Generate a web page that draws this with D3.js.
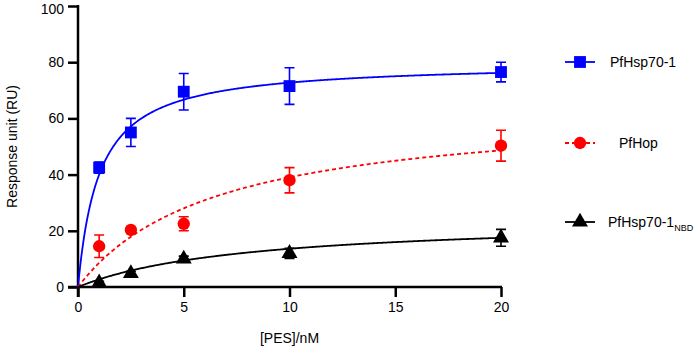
<!DOCTYPE html>
<html>
<head>
<meta charset="utf-8">
<script src="https://cdn.jsdelivr.net/npm/d3@7"></script>
<style>
body { margin: 0; background: #fff; }
svg { font-family: "Liberation Sans", Arial, sans-serif; }
</style>
</head>
<body>
<svg id="chart" width="699" height="347"></svg>
<script>
// concentrations [PES]/nM
var concs = [1, 2.5, 5, 10, 20]

var hsp70Mean = [42.5, 55, 69.5, 71.5, 76.5]
var hsp70Err = [2, 5, 6.5, 6.5, 3.5]
var hopMean = [14.5, 20.3, 22.5, 38, 50.3]
var hopErr = [4, 0.8, 2.5, 4.5, 5.5]
var nbdMean = [1.5, 4.8, 10, 12, 17.5]
var nbdErr = [0.5, 0.8, 1, 1.8, 3]

// one-site binding fit parameters [Bmax, Kd]
var hsp70Fit = [80, 1.0]
var hopFit = [64.4, 6.5]
var nbdFit = [24.5, 8]

var xTicks = [0, 5, 10, 15, 20]
var yTicks = [0, 20, 40, 60, 80, 100]

var series = [
  {name: "PfHsp70-1", mean: hsp70Mean, err: hsp70Err, fit: hsp70Fit, color: "#0000ff", shape: "square", dash: null},
  {name: "PfHop", mean: hopMean, err: hopErr, fit: hopFit, color: "#ff0000", shape: "circle", dash: "4,3"},
  {name: "PfHsp70-1", sub: "NBD", mean: nbdMean, err: nbdErr, fit: nbdFit, color: "#000000", shape: "triangle", dash: null}
]

var svg = d3.select("#chart")
var xScale = d3.scaleLinear().domain([0, 20]).range([78, 501])
var yScale = d3.scaleLinear().domain([0, 100]).range([287, 6])

function symbolFor(shape) {
  if (shape == "square") return d3.symbol().type(d3.symbolSquare).size(140)
  if (shape == "circle") return d3.symbol().type(d3.symbolCircle).size(120)
  return d3.symbol().type(d3.symbolTriangle).size(110)
}

// axes
var xAxis = svg.append("g")
  .attr("transform", "translate(0," + yScale(0) + ")")
  .call(d3.axisBottom(xScale).tickValues(xTicks).tickSize(10).tickPadding(5))
var yAxis = svg.append("g")
  .attr("transform", "translate(" + xScale(0) + ",0)")
  .call(d3.axisLeft(yScale).tickValues(yTicks).tickSize(10).tickPadding(4))

;[xAxis, yAxis].forEach(function(ax) {
  ax.selectAll(".tick line").attr("stroke", "#000").attr("stroke-width", 2.5)
  ax.selectAll(".tick text").attr("fill", "#000").attr("font-size", "14px")
    .attr("font-family", "Liberation Sans, Arial, sans-serif")
})
xAxis.select(".domain").attr("stroke", "#000").attr("stroke-width", 2.5)
  .attr("d", "M" + (xScale(0) - 10) + ",0H" + (xScale(20) + 1))
yAxis.select(".domain").attr("stroke", "#000").attr("stroke-width", 2.5)
  .attr("d", "M0," + (yScale(100) - 1) + "V" + (yScale(0) + 10))
// keep the top label inside the picture
yAxis.selectAll(".tick text").filter(function(d) { return d == 100 }).attr("dy", "0.5em")

svg.append("text")
  .attr("x", (xScale(0) + xScale(20)) / 2)
  .attr("y", 343)
  .attr("text-anchor", "middle")
  .attr("font-size", "14px")
  .text("[PES]/nM")

svg.append("text")
  .attr("transform", "translate(17," + ((yScale(0) + yScale(100)) / 2) + ") rotate(-90)")
  .attr("text-anchor", "middle")
  .attr("font-size", "14px")
  .text("Response unit (RU)")

// fit curves
var fitX = d3.range(0, 20.001, 0.05)
series.forEach(function(s) {
  var line = d3.line()
    .x(function(x) { return xScale(x) })
    .y(function(x) { return yScale(s.fit[0] * x / (s.fit[1] + x)) })
  svg.append("path")
    .datum(fitX)
    .attr("d", line)
    .attr("fill", "none")
    .attr("stroke", s.color)
    .attr("stroke-width", 1.8)
    .attr("stroke-dasharray", s.dash)
})

// error bars and markers
series.forEach(function(s) {
  var g = svg.append("g")
  concs.forEach(function(c, i) {
    var top = yScale(s.mean[i] + s.err[i]), bot = yScale(s.mean[i] - s.err[i])
    var cx = xScale(c)
    g.append("path")
      .attr("d", "M" + cx + "," + top + "V" + bot + "M" + (cx - 5) + "," + top + "H" + (cx + 5) + "M" + (cx - 5) + "," + bot + "H" + (cx + 5))
      .attr("stroke", s.color).attr("stroke-width", 1.6).attr("fill", "none")
    g.append("path")
      .attr("d", symbolFor(s.shape)())
      .attr("transform", "translate(" + cx + "," + yScale(s.mean[i]) + ")")
      .attr("fill", s.color)
  })
})

// legend
var legendY = [62, 143, 222]
var legendTextX = [610, 619, 608]
series.forEach(function(s, i) {
  var g = svg.append("g").attr("transform", "translate(580," + legendY[i] + ")")
  g.append("line").attr("x1", -15).attr("x2", 15)
    .attr("stroke", s.color).attr("stroke-width", 1.8)
    .attr("stroke-dasharray", s.dash)
  g.append("path").attr("d", symbolFor(s.shape)()).attr("fill", s.color)
  var t = svg.append("text")
    .attr("x", legendTextX[i]).attr("y", legendY[i] + 5)
    .attr("font-size", "14px")
    .text(s.name)
  if (s.sub) {
    t.append("tspan").attr("font-size", "9px").attr("dy", 4).text(s.sub)
  }
})
</script>
</body>
</html>
